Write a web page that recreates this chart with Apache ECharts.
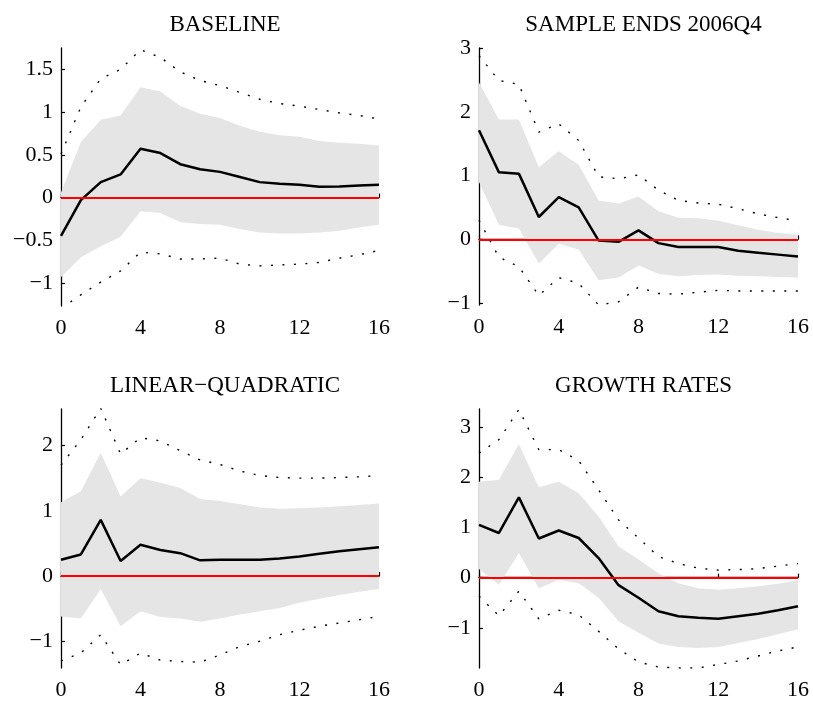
<!DOCTYPE html>
<html>
<head>
<meta charset="utf-8">
<script src="https://cdn.jsdelivr.net/npm/echarts@6/dist/echarts.min.js"></script>
<style>
  html, body { margin: 0; padding: 0; background: #fff; }
  #main { width: 813px; height: 702px; }
</style>
</head>
<body>
<div id="main"></div>
<script>
// horizons (quarters)
var steps = [0, 1, 2, 3, 4, 5, 6, 7, 8, 9, 10, 11, 12, 13, 14, 15, 16];
var titles = ['BASELINE', 'SAMPLE ENDS 2006Q4', 'LINEAR\u2212QUADRATIC', 'GROWTH RATES'];

// BASELINE
var baseMed  = [-0.45, -0.03, 0.18, 0.27, 0.57, 0.52, 0.39, 0.33, 0.30, 0.24, 0.18, 0.16, 0.15, 0.125, 0.13, 0.14, 0.15];
var baseHi   = [0.06, 0.65, 0.91, 0.96, 1.29, 1.24, 1.07, 0.98, 0.93, 0.84, 0.77, 0.73, 0.71, 0.66, 0.64, 0.63, 0.61];
var baseLo   = [-0.93, -0.70, -0.57, -0.46, -0.16, -0.18, -0.29, -0.31, -0.32, -0.37, -0.41, -0.42, -0.42, -0.41, -0.39, -0.35, -0.32];
var baseHi90 = [0.51, 1.06, 1.39, 1.50, 1.73, 1.64, 1.47, 1.37, 1.31, 1.23, 1.15, 1.10, 1.07, 1.03, 0.99, 0.96, 0.92];
var baseLo90 = [-1.30, -1.14, -0.99, -0.86, -0.64, -0.66, -0.72, -0.72, -0.71, -0.78, -0.80, -0.79, -0.78, -0.76, -0.71, -0.67, -0.62];

// SAMPLE ENDS 2006Q4
var s06Med  = [1.71, 1.05, 1.03, 0.35, 0.66, 0.50, -0.02, -0.04, 0.14, -0.06, -0.12, -0.12, -0.12, -0.18, -0.21, -0.24, -0.27];
var s06Hi   = [2.46, 1.88, 1.88, 1.13, 1.38, 1.17, 0.61, 0.56, 0.67, 0.44, 0.34, 0.33, 0.29, 0.22, 0.15, 0.10, 0.07];
var s06Lo   = [0.90, 0.23, 0.17, -0.38, -0.07, -0.16, -0.64, -0.60, -0.41, -0.54, -0.58, -0.56, -0.55, -0.57, -0.58, -0.59, -0.60];
var s06Hi90 = [2.88, 2.49, 2.43, 1.68, 1.81, 1.55, 0.98, 0.95, 1.01, 0.77, 0.61, 0.57, 0.55, 0.48, 0.40, 0.34, 0.29];
var s06Lo90 = [0.30, -0.28, -0.43, -0.88, -0.60, -0.69, -1.03, -0.98, -0.75, -0.85, -0.86, -0.83, -0.80, -0.81, -0.81, -0.81, -0.81];

// LINEAR-QUADRATIC
var lqMed  = [0.25, 0.33, 0.86, 0.23, 0.48, 0.40, 0.35, 0.24, 0.25, 0.25, 0.25, 0.27, 0.30, 0.34, 0.38, 0.41, 0.44];
var lqHi   = [1.13, 1.30, 1.89, 1.22, 1.50, 1.43, 1.35, 1.18, 1.15, 1.10, 1.05, 1.03, 1.04, 1.05, 1.07, 1.09, 1.11];
var lqLo   = [-0.62, -0.65, -0.20, -0.77, -0.54, -0.63, -0.65, -0.70, -0.65, -0.59, -0.54, -0.49, -0.41, -0.35, -0.29, -0.24, -0.20];
var lqHi90 = [1.70, 2.09, 2.57, 1.87, 2.12, 2.07, 1.92, 1.78, 1.71, 1.61, 1.54, 1.51, 1.50, 1.50, 1.51, 1.52, 1.54];
var lqLo90 = [-1.30, -1.18, -0.90, -1.36, -1.18, -1.29, -1.31, -1.32, -1.21, -1.08, -1.00, -0.90, -0.83, -0.77, -0.72, -0.67, -0.62];

// GROWTH RATES
var grMed  = [1.05, 0.89, 1.60, 0.78, 0.94, 0.79, 0.39, -0.15, -0.40, -0.67, -0.77, -0.80, -0.82, -0.77, -0.72, -0.65, -0.57];
var grHi   = [1.91, 1.95, 2.66, 1.80, 1.91, 1.68, 1.22, 0.62, 0.36, 0.09, -0.11, -0.21, -0.24, -0.21, -0.17, -0.12, -0.05];
var grLo   = [0.17, -0.14, 0.49, -0.21, -0.04, -0.11, -0.40, -0.87, -1.10, -1.31, -1.38, -1.40, -1.38, -1.30, -1.22, -1.13, -1.03];
var grHi90 = [2.48, 2.75, 3.35, 2.55, 2.55, 2.33, 1.75, 1.15, 0.79, 0.42, 0.28, 0.19, 0.15, 0.16, 0.18, 0.23, 0.28];
var grLo90 = [-0.37, -0.76, -0.27, -0.82, -0.65, -0.74, -1.07, -1.42, -1.68, -1.78, -1.80, -1.80, -1.73, -1.66, -1.56, -1.46, -1.38];

var yTicks = [
  [-1, -0.5, 0, 0.5, 1, 1.5],
  [-1, 0, 1, 2, 3],
  [-1, 0, 1, 2],
  [-1, 0, 1, 2, 3]
];
var yRange = [[-1.27, 1.75], [-1.03, 3], [-1.41, 2.56], [-1.80, 3.36]];

var panels = [
  {med: baseMed, hi: baseHi, lo: baseLo, hi90: baseHi90, lo90: baseLo90},
  {med: s06Med, hi: s06Hi, lo: s06Lo, hi90: s06Hi90, lo90: s06Lo90},
  {med: lqMed, hi: lqHi, lo: lqLo, hi90: lqHi90, lo90: lqLo90},
  {med: grMed, hi: grHi, lo: grLo, hi90: grHi90, lo90: grLo90}
];

var grids = [
  {left: 61, top: 48, width: 318, height: 258},
  {left: 479, top: 48, width: 319, height: 257},
  {left: 61, top: 409, width: 318, height: 259},
  {left: 479, top: 409, width: 319, height: 259}
];

var font = 'Liberation Serif';
function minus(v) { return String(v).replace('-', '\u2212'); }
function pairs(arr) { return steps.map(function (s, i) { return [s, arr[i]]; }); }

// shaded band: one polygon built from the lo/hi arrays through the axis scales
function bandRenderer(p) {
  return function (params, api) {
    if (params.dataIndex !== 0) return null;
    var pts = [];
    steps.forEach(function (s, k) { pts.push(api.coord([s, p.hi[k]])); });
    for (var k = steps.length - 1; k >= 0; k--) pts.push(api.coord([steps[k], p.lo[k]]));
    return {
      type: 'polygon',
      shape: {points: pts},
      style: {fill: '#e5e5e5', stroke: null}
    };
  };
}

var xAxes = [], yAxes = [], series = [], titleList = [];
grids.forEach(function (g, i) {
  titleList.push({
    text: titles[i], left: g.left + g.width / 2, top: g.top - 40, textAlign: 'center',
    textStyle: {fontFamily: font, fontSize: 23, fontWeight: 'normal', color: '#000'}
  });
  xAxes.push({
    type: 'value', gridIndex: i, min: 0, max: 16, interval: 4,
    axisLine: {lineStyle: {color: '#000', width: 1.3}},
    axisTick: {inside: true, length: 4, lineStyle: {color: '#000', width: 1.2}},
    axisLabel: {fontFamily: font, fontSize: 22, color: '#000', margin: 11},
    splitLine: {show: false}
  });
  yAxes.push({
    type: 'value', gridIndex: i, min: yRange[i][0], max: yRange[i][1],
    axisLine: {show: true, lineStyle: {color: '#000', width: 1.3}},
    axisTick: {show: true, inside: true, length: 4, customValues: yTicks[i], lineStyle: {color: '#000', width: 1.2}},
    axisLabel: {fontFamily: font, fontSize: 22, color: '#000', margin: 8, customValues: yTicks[i], formatter: minus},
    splitLine: {show: false}
  });
  var p = panels[i];
  series.push({
    type: 'custom', xAxisIndex: i, yAxisIndex: i, z: 1, silent: true, clip: true,
    renderItem: bandRenderer(p),
    encode: {x: 0, y: 1},
    data: steps.map(function (s, k) { return [s, p.lo[k], p.hi[k]]; })
  });
  [p.hi90, p.lo90].forEach(function (d) {
    series.push({
      type: 'line', xAxisIndex: i, yAxisIndex: i, data: pairs(d), symbol: 'none', z: 2,
      lineStyle: {color: '#000', width: 1.4, type: [2, 9.5]}, silent: true
    });
  });
  series.push({
    type: 'line', xAxisIndex: i, yAxisIndex: i, data: pairs(p.med), symbol: 'none',
    lineStyle: {color: '#000', width: 2.5}, silent: true, z: 3,
    markLine: {
      silent: true, symbol: 'none', label: {show: false},
      lineStyle: {color: '#ff0000', width: 2, type: 'solid'},
      data: [{yAxis: 0}]
    }
  });
});

var myChart = echarts.init(document.getElementById('main'));
myChart.setOption({
  backgroundColor: '#fff',
  animation: false,
  title: titleList,
  grid: grids,
  xAxis: xAxes,
  yAxis: yAxes,
  series: series
});
</script>
</body>
</html>
